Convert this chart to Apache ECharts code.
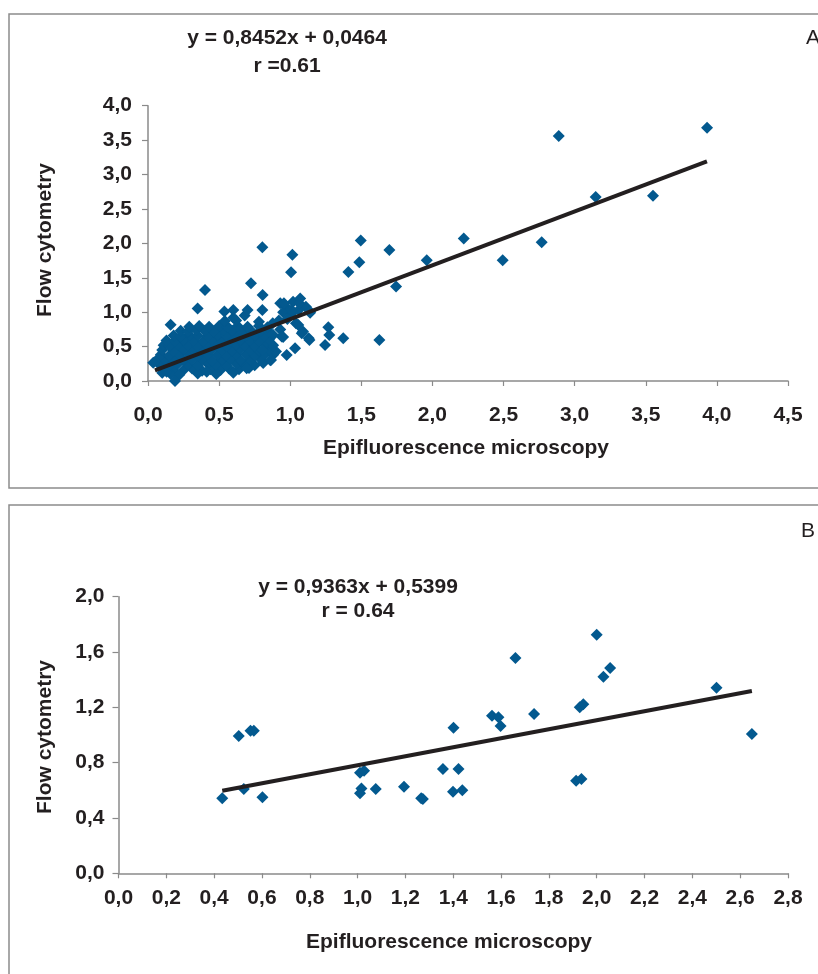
<!DOCTYPE html>
<html>
<head>
<meta charset="utf-8">
<script src="https://cdn.jsdelivr.net/npm/echarts@6.0.0/dist/echarts.min.js"></script>
<style>
  html, body { margin: 0; padding: 0; background: #fff; }
  #chart { width: 818px; height: 974px; }
</style>
</head>
<body>
<div id="chart"></div>
<script>
// panel A - dense cloud of low values
const clusterA = [
  [0.12,0.17],[0.18,0.15],[0.25,0.16],[0.31,0.18],[0.38,0.15],[0.44,0.17],[0.51,0.16],[0.57,0.18],[0.64,0.17],[0.71,0.19],
  [0.10,0.12],[0.16,0.10],[0.22,0.09],[0.35,0.11],[0.48,0.10],[0.60,0.12],
  [0.08,0.24],[0.15,0.23],[0.21,0.25],[0.28,0.24],[0.35,0.23],[0.42,0.25],[0.48,0.24],[0.55,0.23],[0.62,0.25],[0.68,0.24],[0.75,0.23],[0.81,0.26],
  [0.06,0.30],[0.12,0.31],[0.18,0.32],[0.25,0.30],[0.31,0.31],[0.38,0.32],[0.45,0.30],[0.52,0.31],[0.58,0.32],[0.65,0.30],[0.72,0.31],[0.79,0.32],[0.86,0.30],
  [0.09,0.38],[0.15,0.37],[0.22,0.39],[0.29,0.38],[0.35,0.37],[0.42,0.39],[0.49,0.38],[0.55,0.37],[0.62,0.39],[0.69,0.38],[0.75,0.37],[0.82,0.39],[0.88,0.38],
  [0.10,0.45],[0.18,0.44],[0.25,0.46],[0.32,0.45],[0.38,0.44],[0.45,0.46],[0.52,0.45],[0.59,0.44],[0.65,0.46],[0.72,0.45],[0.78,0.44],[0.85,0.46],[0.90,0.43],
  [0.11,0.52],[0.15,0.51],[0.21,0.53],[0.28,0.52],[0.35,0.51],[0.41,0.53],[0.48,0.52],[0.55,0.51],[0.62,0.53],[0.68,0.52],[0.75,0.51],[0.82,0.53],[0.88,0.52],
  [0.13,0.59],[0.19,0.58],[0.25,0.60],[0.32,0.59],[0.39,0.58],[0.45,0.60],[0.52,0.59],[0.58,0.58],[0.65,0.60],[0.72,0.59],[0.78,0.58],[0.85,0.60],
  [0.18,0.66],[0.23,0.65],[0.29,0.67],[0.35,0.66],[0.42,0.65],[0.49,0.67],[0.55,0.66],[0.62,0.65],[0.69,0.67],[0.75,0.66],[0.82,0.65],[0.88,0.67],
  [0.23,0.73],[0.28,0.72],[0.34,0.74],[0.40,0.73],[0.46,0.72],[0.53,0.74],[0.59,0.73],[0.66,0.72],[0.72,0.74],[0.79,0.73],[0.85,0.72],
  [0.29,0.79],[0.36,0.80],[0.43,0.79],[0.50,0.80],[0.56,0.79],[0.63,0.80],[0.70,0.79],[0.78,0.80],[0.84,0.78],
  [0.54,0.87],[0.62,0.88],[0.68,0.95],[0.70,1.03],[0.60,0.92],[0.78,0.86]
];

// panel A - group near 1.0 and scattered points
const groupA = [
  [0.93,1.13],[0.97,1.08],[1.02,1.15],[1.07,1.20],[1.11,1.08],[0.95,1.00],[1.01,0.98],[1.06,1.03],[1.14,0.99],
  [0.92,0.88],[0.98,0.90],[1.04,0.84],[1.09,0.72],[1.13,0.62],[0.93,0.75],[0.95,0.64]
];

const outliersA = [
  [0.804,1.945],[1.015,1.833],[1.006,1.581],[1.496,2.041],[1.486,1.727],[1.409,1.585],[1.697,1.905],
  [1.744,1.372],[1.960,1.755],[2.220,2.070],[2.494,1.755],[2.768,2.017],[2.888,3.559],[3.148,2.672],
  [3.551,2.691],[3.931,3.680],[0.724,1.421],[0.806,1.251],[0.401,1.324],[0.349,1.052],[0.159,0.819],
  [0.037,0.266],[0.190,0.000],[0.131,0.136],[0.413,0.136],[0.694,0.185],[0.804,0.451],[0.865,0.305],
  [0.600,1.033],[0.537,1.009],[0.804,1.033],[0.877,0.839],[0.940,0.645],[1.135,0.596],[1.081,0.693],
  [1.057,0.814],[1.064,1.130],[1.010,1.033],[1.139,1.009],[0.956,1.130],
  [1.268,0.781],[1.275,0.669],[1.245,0.524],[1.373,0.621],[1.627,0.596],[1.034,0.475],[0.975,0.378]
];

const trendA = [[0.049, 0.156], [3.93, 3.19]];

// panel B
const pointsB = [
  [0.434,0.542],[0.503,0.993],[0.524,0.610],[0.552,1.031],[0.566,1.031],[0.602,0.550],
  [1.010,0.727],[1.027,0.742],[1.016,0.614],[1.010,0.578],[1.076,0.610],[1.194,0.625],
  [1.266,0.542],[1.273,0.537],[1.357,0.754],[1.401,1.053],[1.399,0.590],[1.422,0.754],
  [1.438,0.600],[1.562,1.140],[1.589,1.128],[1.598,1.065],[1.660,1.557],[1.738,1.152],
  [1.929,1.200],[1.944,1.222],[1.914,0.670],[1.936,0.682],[2.000,1.725],[2.028,1.422],
  [2.056,1.484],[2.501,1.342],[2.649,1.007]
];

const trendB = [[0.434, 0.597], [2.649, 1.318]];

// axis ranges [min, max, step]
const xTicksA = [0, 4.5, 0.5];
const yTicksA = [0, 4.0, 0.5];
const xTicksB = [0, 2.8, 0.2];
const yTicksB = [0, 2.0, 0.4];

const blue = '#03598f';
const ink = '#231f20';
const axisGray = '#8a8a8a';
const font = 'Liberation Sans, Arial, sans-serif';

const comma = v => v.toFixed(1).replace('.', ',');

function makeAxis(ticks, gridIndex, isX, margin) {
  return {
    type: 'value',
    gridIndex: gridIndex,
    min: ticks[0],
    max: ticks[1],
    interval: ticks[2],
    splitLine: { show: false },
    axisLine: { show: true, onZero: false, lineStyle: { color: axisGray, width: 1.5 } },
    axisTick: { show: true, inside: false, length: isX ? 5 : 6, lineStyle: { color: axisGray, width: 1.2 } },
    axisLabel: {
      show: true,
      margin: margin,
      color: ink,
      fontSize: 21,
      fontWeight: 'bold',
      fontFamily: font,
      showMinLabel: true,
      showMaxLabel: true,
      formatter: comma
    }
  };
}

function txt(text, x, y, opts) {
  return Object.assign({
    type: 'text',
    x: x,
    y: y,
    style: {
      text: text,
      fill: ink,
      font: 'bold 21px ' + font,
      textAlign: 'center',
      textVerticalAlign: 'middle'
    }
  }, opts || {});
}

const chart = echarts.init(document.getElementById('chart'), null, { renderer: 'canvas' });

chart.setOption({
  backgroundColor: '#fff',
  animation: false,
  grid: [
    { left: 148, top: 105.7, width: 640, height: 275.3, outerBoundsMode: 'none', containLabel: false },
    { left: 118.5, top: 596.7, width: 669.5, height: 276.6, outerBoundsMode: 'none', containLabel: false }
  ],
  xAxis: [makeAxis(xTicksA, 0, true, 24), makeAxis(xTicksB, 1, true, 14)],
  yAxis: [makeAxis(yTicksA, 0, false, 16), makeAxis(yTicksB, 1, false, 14)],
  series: [
    {
      type: 'scatter', xAxisIndex: 0, yAxisIndex: 0,
      data: clusterA.concat(groupA, outliersA),
      symbol: 'diamond', symbolSize: 12,
      itemStyle: { color: blue, opacity: 1 },
      z: 2
    },
    {
      type: 'line', xAxisIndex: 0, yAxisIndex: 0,
      data: trendA, showSymbol: false, symbol: 'none',
      lineStyle: { color: ink, width: 4 },
      z: 3
    },
    {
      type: 'scatter', xAxisIndex: 1, yAxisIndex: 1,
      data: pointsB,
      symbol: 'diamond', symbolSize: 12,
      itemStyle: { color: blue, opacity: 1 },
      z: 2
    },
    {
      type: 'line', xAxisIndex: 1, yAxisIndex: 1,
      data: trendB, showSymbol: false, symbol: 'none',
      lineStyle: { color: ink, width: 4 },
      z: 3
    }
  ],
  graphic: [
    // panel frames
    { type: 'rect', shape: { x: 9, y: 14, width: 830, height: 474 }, style: { fill: 'none', stroke: '#8c8c8c', lineWidth: 1.5 }, silent: true },
    { type: 'rect', shape: { x: 9, y: 505, width: 830, height: 490 }, style: { fill: 'none', stroke: '#8c8c8c', lineWidth: 1.5 }, silent: true },
    // panel A texts
    txt('y = 0,8452x + 0,0464', 287, 38),
    txt('r =0.61', 287, 66),
    txt('A', 806, 38, { style: { text: 'A', fill: ink, font: '21px ' + font, textAlign: 'left', textVerticalAlign: 'middle' } }),
    txt('Flow cytometry', 45, 240, { rotation: Math.PI / 2 }),
    txt('Epifluorescence microscopy', 466, 448),
    // panel B texts
    txt('y = 0,9363x + 0,5399', 358, 587),
    txt('r = 0.64', 358, 611),
    txt('B', 801, 531, { style: { text: 'B', fill: ink, font: '21px ' + font, textAlign: 'left', textVerticalAlign: 'middle' } }),
    txt('Flow cytometry', 45, 737, { rotation: Math.PI / 2 }),
    txt('Epifluorescence microscopy', 449, 942)
  ]
});
</script>
</body>
</html>
